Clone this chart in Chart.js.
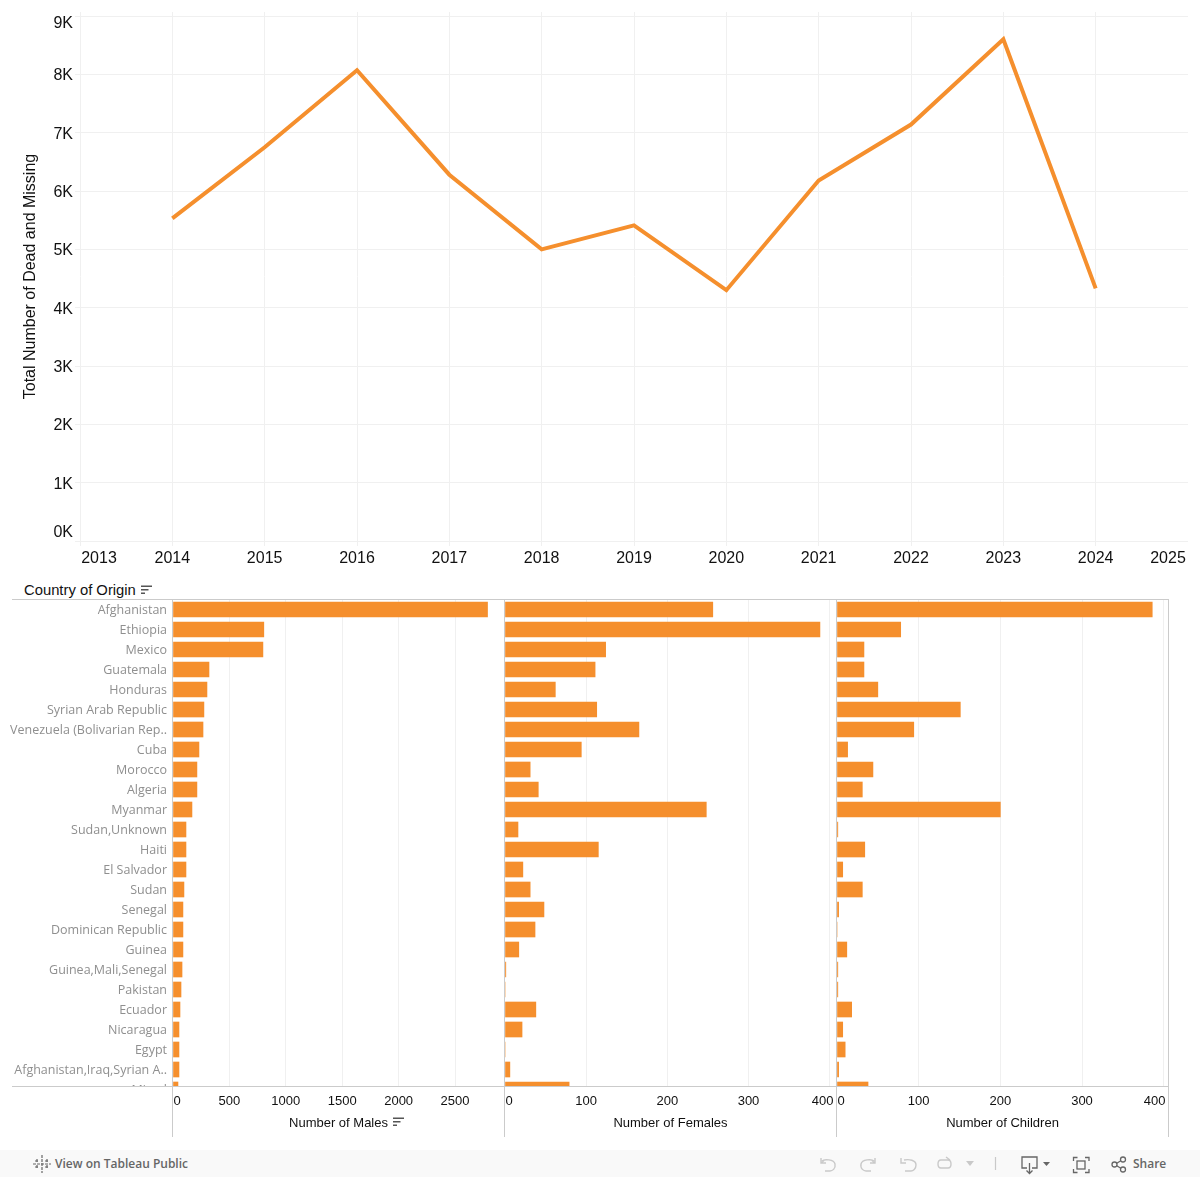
<!DOCTYPE html>
<html>
<head>
<meta charset="utf-8">
<title>Dead and Missing</title>
<script src="https://cdn.jsdelivr.net/npm/chart.js@4"></script>
<style>
    html, body { margin: 0; padding: 0; background: #fff; }
    body { position: relative; width: 1200px; height: 1177px; overflow: hidden; font-family: "Liberation Sans", Arial, sans-serif; }
    canvas { position: absolute; display: block; }
    .rule { position: absolute; background: #cbcbcb; z-index: 3; }
    .head { position: absolute; left: 24px; top: 581px; font-size: 14.8px; line-height: 18px; color: #111; }
    .sort { position: absolute; z-index: 4; }
    .bar { position: absolute; left: 0; top: 1150px; width: 1200px; height: 27px; background: #f9f9f9; color: #666; font-size: 12px; }
    .bar span { position: absolute; top: 6px; line-height: 16px; font-weight: 600; font-family: "Open Sans", sans-serif; }
    .bar svg { position: absolute; left: 0; top: 0; }
</style>
</head>
<body>
<canvas id="lineChart" width="1200" height="575" style="left:0;top:0"></canvas>
<div class="head">Country of Origin</div>
<svg class="sort" style="left:141px;top:585px" width="11" height="10"><path d="M0 0.5h11v1.5H0zM0 4h7.5v1.5H0zM0 7.5h4V9H0z" fill="#555"/></svg>

<canvas id="malesChart" width="504" height="537" style="left:0;top:600px"></canvas>
<canvas id="femalesChart" width="331" height="537" style="left:505px;top:600px"></canvas>
<canvas id="childrenChart" width="331" height="537" style="left:837px;top:600px"></canvas>

<div class="rule" style="left:12px;top:599px;width:1157px;height:1px"></div>
<div class="rule" style="left:12px;top:1086px;width:1157px;height:1px"></div>
<div class="rule" style="left:172px;top:599px;width:1px;height:538px"></div>
<div class="rule" style="left:504px;top:599px;width:1px;height:538px"></div>
<div class="rule" style="left:836px;top:599px;width:1px;height:538px"></div>
<div class="rule" style="left:1168px;top:599px;width:1px;height:538px"></div>
<svg class="sort" style="left:393px;top:1117px" width="11" height="10"><path d="M0 0.5h11v1.5H0zM0 4h7.5v1.5H0zM0 7.5h4V9H0z" fill="#555"/></svg>

<div class="bar">
    <svg width="1200" height="27" fill="none" stroke-width="1.2">
        <g stroke="#666">
            <path d="M42 5v18M33 14h18M37 9v4M35 11h4M47 9v4M45 11h4M37 15v4M35 17h4M47 15v4M45 17h4" stroke-dasharray="3 1"/>
        </g>
        <g stroke="#c9c9c9" stroke-width="1.4">
            <path d="M821 8v5h5M821 13l3-2.500M822 11c2-2 12-2 13 3 1 5-3 7-5 7h-5"/>
            <path d="M875 8v5h-5M875 13l-3-2.500M874 11c-2-2-12-2-13 3-1 5 3 7 5 7h5"/>
            <path d="M901 8v5h5M904 10c5-1 12 0 12 5 0 4-3 6-5 6h-6"/>
            <path d="M941 10h7c4 0 4 8 0 8h-7c-4 0-4-8 0-8zM946 7l4 3"/>
        </g>
        <path d="M966 11h8l-4 5z" fill="#c9c9c9"/>
        <path d="M995.500 7v13" stroke="#c9c9c9"/>
        <g stroke="#666" stroke-width="1.300">
            <path d="M1027 18h-5V7h15v11h-5M1029.500 13v10M1026.500 20.500l3 3 3-3"/>
            <path d="M1073.500 11V7.500h4M1085 7.500h4V11M1089 19v3.500h-4M1077.500 22.500h-4V19"/>
            <rect x="1077" y="11" width="8" height="8"/>
            <circle cx="1114.500" cy="14.500" r="2.500"/>
            <circle cx="1123" cy="9.500" r="2.500"/>
            <circle cx="1123" cy="19.500" r="2.500"/>
            <path d="M1116.800 13.300l4-2.500M1116.800 15.800l4 2.500"/>
        </g>
        <path d="M1043 12h7l-3.500 4z" fill="#666"/>
    </svg>
    <span style="left:55px">View on Tableau Public</span>
    <span style="left:1133px">Share</span>
</div>

<script>
var years = [2014, 2015, 2016, 2017, 2018, 2019, 2020, 2021, 2022, 2023, 2024]
var deadMissing = [5530, 6750, 8070, 6280, 5000, 5410, 4300, 6180, 7140, 8600, 4330]
var yearTicks = [2013, 2014, 2015, 2016, 2017, 2018, 2019, 2020, 2021, 2022, 2023, 2024, 2025]
var deadTicks = [0, 1000, 2000, 3000, 4000, 5000, 6000, 7000, 8000, 9000]

var countries = [
    "Afghanistan", "Ethiopia", "Mexico", "Guatemala", "Honduras",
    "Syrian Arab Republic", "Venezuela (Bolivarian Rep..", "Cuba", "Morocco", "Algeria",
    "Myanmar", "Sudan,Unknown", "Haiti", "El Salvador", "Sudan",
    "Senegal", "Dominican Republic", "Guinea", "Guinea,Mali,Senegal", "Pakistan",
    "Ecuador", "Nicaragua", "Egypt", "Afghanistan,Iraq,Syrian A..", "Mixed"
]
var males = [2788, 805, 797, 319, 301, 274, 266, 230, 212, 212, 168, 115, 115, 115, 97, 88, 88, 88, 80, 71, 62, 53, 53, 53, 44]
var females = [256, 388, 124, 111, 62, 113, 165, 94, 31, 41, 248, 16, 115, 22, 31, 48, 37, 17, 1, 0, 38, 21, 0, 6, 79]
var children = [386, 78, 33, 33, 50, 151, 94, 13, 44, 31, 200, 1, 34, 7, 31, 2, 0, 12, 1, 1, 18, 7, 10, 2, 38]
var maleTicks = [0, 500, 1000, 1500, 2000, 2500]
var countTicks = [0, 100, 200, 300, 400]

var ORANGE = "#f58f2d"
var GRID = "#f0f0f0"
var INK = "#111"

Chart.defaults.font.family = '"Liberation Sans", Arial, sans-serif'
Chart.defaults.animation = false

// the outer tick labels sit inside the pane in tableau, chart.js has no per tick offset
var nudgeLabels = {
    id: "nudgeLabels",
    beforeDraw: function (chart, args, opts) {
        Object.keys(opts).forEach(function (id) {
            if (id === "_") return
            var items = chart.scales[id].getLabelItems(chart.chartArea)
            opts[id].forEach(function (n) {
                var item = items[n[0]]
                var o = item.options || item
                o.translation[0] += n[1]
                o.translation[1] += n[2]
            })
        })
    }
}

// last country row is cut by the pane edge
var cutLabels = {
    id: "cutLabels",
    afterDraw: function (chart) {
        var area = chart.chartArea
        chart.ctx.clearRect(0, area.bottom, area.left - 1, 24)
    }
}

function fixedWidth(w) {
    return function (scale) {
        scale.width = w
        scale.paddingTop = 0
        scale.paddingBottom = 0
    }
}

function fixedHeight(h) {
    return function (scale) {
        scale.height = h
        scale.paddingLeft = 0
        scale.paddingRight = 0
    }
}

function tickList(values) {
    return function (scale) {
        scale.ticks = values.map(function (v) { return { value: v } })
    }
}

new Chart(document.getElementById("lineChart"), {
    type: "line",
    data: {
        datasets: [{
            data: years.map(function (y, i) { return { x: y, y: deadMissing[i] } }),
            borderColor: ORANGE,
            borderWidth: 4,
            borderJoinStyle: "miter",
            pointRadius: 0,
            tension: 0
        }]
    },
    plugins: [nudgeLabels],
    options: {
        responsive: false,
        events: [],
        layout: { padding: { top: 12, right: 12 } },
        plugins: {
            legend: { display: false },
            tooltip: { enabled: false },
            nudgeLabels: {
                x: [[0, 19, 0], [12, -20, 0]],
                y: deadTicks.map(function (v, i) {
                    return [i, 0, i === 0 ? -8 : (i === deadTicks.length - 1 ? 7.5 : 1.5)]
                })
            }
        },
        scales: {
            x: {
                type: "linear",
                min: 2013,
                max: 2025,
                afterFit: fixedHeight(34),
                afterBuildTicks: tickList(yearTicks),
                border: { display: false },
                grid: {
                    tickLength: 5,
                    color: function (c) { return c.tick && c.tick.value === 2025 ? "transparent" : GRID }
                },
                ticks: {
                    autoSkip: false,
                    maxRotation: 0,
                    padding: 3,
                    color: INK,
                    font: { size: 16 },
                    callback: function (v) { return String(v) }
                }
            },
            y: {
                min: 0,
                max: 9069,
                afterFit: fixedWidth(80),
                afterBuildTicks: tickList(deadTicks),
                border: { display: false },
                grid: { tickLength: 5, color: GRID },
                title: {
                    display: true,
                    text: "Total Number of Dead and Missing",
                    color: INK,
                    font: { size: 16 },
                    padding: { top: 21, bottom: 0 }
                },
                ticks: {
                    autoSkip: false,
                    padding: 2,
                    color: INK,
                    font: { size: 16 },
                    callback: function (v) { return (v / 1000) + "K" }
                }
            }
        }
    }
})

function barPane(id, values, title, xMax, xTicks, nudge, showNames) {
    var nudges = { x: nudge }
    if (showNames) {
        nudges.y = countries.map(function (c, i) { return [i, 0, 1] })
    }
    new Chart(document.getElementById(id), {
        type: "bar",
        data: {
            datasets: [{
                data: values.map(function (v, i) { return { x: v, y: i } }),
                backgroundColor: ORANGE,
                barThickness: 15
            }]
        },
        plugins: showNames ? [nudgeLabels, cutLabels] : [nudgeLabels],
        options: {
            indexAxis: "y",
            responsive: false,
            events: [],
            plugins: {
                legend: { display: false },
                tooltip: { enabled: false },
                nudgeLabels: nudges
            },
            scales: {
                x: {
                    type: "linear",
                    min: 0,
                    max: xMax,
                    afterFit: fixedHeight(51),
                    afterBuildTicks: tickList(xTicks),
                    border: { display: false },
                    grid: {
                        drawTicks: false,
                        color: function (c) { return c.tick && c.tick.value === 0 ? "transparent" : GRID }
                    },
                    title: {
                        display: true,
                        text: title,
                        color: INK,
                        font: { size: 13 },
                        padding: { top: 0, bottom: 6 }
                    },
                    ticks: {
                        maxRotation: 0,
                        autoSkip: false,
                        padding: 8,
                        color: INK,
                        font: { size: 13 },
                        callback: function (v) { return String(v) }
                    }
                },
                y: {
                    type: "linear",
                    display: showNames,
                    reverse: true,
                    offset: false,
                    min: -0.475,
                    max: 23.825,
                    afterFit: fixedWidth(showNames ? 173 : 0),
                    afterBuildTicks: tickList(countries.map(function (c, i) { return i })),
                    border: { display: false },
                    grid: { display: false, drawTicks: false },
                    ticks: {
                        autoSkip: false,
                        padding: 6,
                        color: "#8f8f8f",
                        font: { family: '"Open Sans", sans-serif', size: 12.5 },
                        callback: function (v) { return countries[v] }
                    }
                }
            }
        }
    })
}

barPane("malesChart", males, "Number of Males", 2934, maleTicks, [[0, 4, 0]], true)
barPane("femalesChart", females, "Number of Females", 407.8, countTicks, [[0, 4, 0], [4, -7, 0]], false)
barPane("childrenChart", children, "Number of Children", 405.3, countTicks, [[0, 4, 0], [4, -9, 0]], false)
</script>
</body>
</html>
